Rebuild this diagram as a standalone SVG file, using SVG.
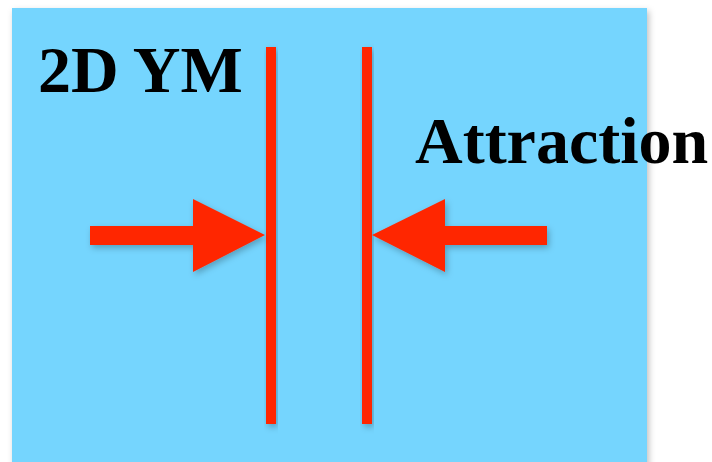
<svg xmlns="http://www.w3.org/2000/svg" width="712" height="462" viewBox="0 0 712 462">
<defs>
<filter id="sh" x="-20%" y="-20%" width="140%" height="140%">
<feDropShadow dx="2" dy="3" stdDeviation="3" flood-color="#000" flood-opacity="0.25"/>
</filter>
<style>
.red{fill:#FF2600;filter:url(#sh)}
.lbl{font-family:"Liberation Serif","Times New Roman",serif;font-weight:bold;font-size:66px;fill:#000}
</style>
</defs>
<rect x="12" y="8" width="635" height="470" fill="#75D5FE" filter="url(#sh)"/>
<g id="plates">
<rect class="red" x="266" y="47" width="10" height="377"/>
<rect class="red" x="362" y="47" width="10" height="377"/>
</g>
<g id="connectors">
<polygon class="red" points="90,226 193,226 193,199 265,235 193,272 193,245 90,245"/>
<polygon class="red" points="547,226 445,226 445,199 372,235 445,272 445,245 547,245"/>
</g>
<g id="label-2dym"><text class="lbl" x="38" y="92" font-size="65">2D YM</text></g>
<g id="label-attraction"><text class="lbl" x="415" y="163">Attraction</text></g>
</svg>
